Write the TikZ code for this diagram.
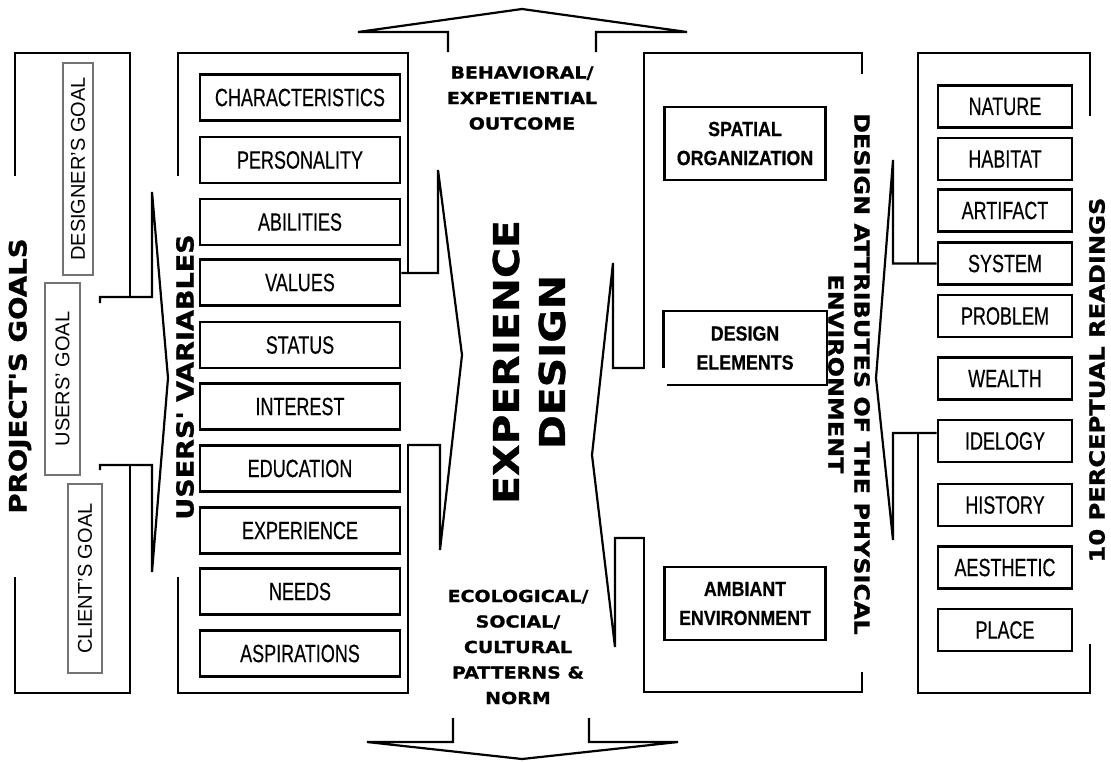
\documentclass[tikz,border=0pt]{standalone}
\usepackage{fontspec}
\setmainfont{Liberation Sans}
\newfontfamily\narrowfont[FakeStretch=0.72, FakeBold=0.3]{Liberation Sans}
\newfontfamily\condensedbold[FakeStretch=0.87, FakeBold=0.5]{Liberation Sans}
\newfontfamily\heavyfont[FakeStretch=1.15, FakeBold=1.0]{DejaVu Sans}
\tikzset{
    frame/.style={line width=2.8pt, line cap=rect},
    outline/.style={line width=2.2pt, line join=miter},
    item/.style={draw, line width=2.6pt, minimum width=200pt,
                 minimum height=46pt, inner sep=0pt,
                 font=\narrowfont\fontsize{25}{25}\selectfont},
    reading/.style={item, minimum width=134pt, minimum height=42pt},
    goal/.style={draw=black!55, line width=1.4pt, rotate=90, inner sep=0pt,
                 font=\fontsize{20}{20}\selectfont},
    attribute/.style={draw, line width=2.4pt, minimum width=161pt,
                      minimum height=73pt, inner sep=0pt, align=center,
                      font=\condensedbold\bfseries\fontsize{20.5}{29}\selectfont},
    heading/.style={inner sep=0pt, align=center,
                    font=\heavyfont\bfseries\fontsize{24}{24}\selectfont},
    caption/.style={inner sep=0pt, align=center,
                    font=\heavyfont\bfseries\fontsize{16.5}{25.5}\selectfont},
}

\begin{document}
\begin{tikzpicture}[x=1pt, y=-1pt]
    \path[use as bounding box] (0,0) rectangle (1111,761);

    % project goals
    \node[heading, rotate=90] (projectgoals) at (20,376) {PROJECT'S GOALS};
    \node[goal, minimum width=212pt, minimum height=30pt] (designergoal) at (78,169) {DESIGNER'S GOAL};
    \node[goal, minimum width=192pt, minimum height=35pt] (usersgoal) at (62.5,379) {USERS' GOAL};
    \node[goal, minimum width=189pt, minimum height=34pt] (clientgoal) at (85,578.5) {CLIENT'S GOAL};

    \draw[frame] (15,175) -- (15,53) -- (130,53) -- (130,297);
    \draw[frame] (15,578) -- (15,693) -- (130,693) -- (130,465);
    \draw[outline] (100,303) -- (100,297) -- (152,297) -- (152,192)
        -- (168,378) -- (152,572) -- (152,465) -- (100,465) -- (100,470);

    % users' variables
    \node[heading, rotate=90, font=\heavyfont\bfseries\fontsize{23.5}{23.5}\selectfont] (usersvariables) at (185,377) {USERS' VARIABLES};
    \node[item] (characteristics) at (300,97.5) {CHARACTERISTICS};
    \node[item] (personality) at (300,160) {PERSONALITY};
    \node[item] (abilities) at (300,222) {ABILITIES};
    \node[item] (values) at (300,282.5) {VALUES};
    \node[item] (status) at (300,345) {STATUS};
    \node[item] (interest) at (300,406.5) {INTEREST};
    \node[item] (education) at (300,468.5) {EDUCATION};
    \node[item] (experience) at (300,530.5) {EXPERIENCE};
    \node[item] (needs) at (300,591.5) {NEEDS};
    \node[item] (aspirations) at (300,653.5) {ASPIRATIONS};

    \coordinate (valuesstub) at (438,273);
    \draw[frame] (178,175) -- (178,53) -- (408,53) -- (408,273);
    \draw[frame] (178,578) -- (178,693) -- (408,693) -- (408,445);
    \draw[outline] (values.east |- valuesstub) -- (valuesstub) -- (438,170)
        -- (462,355) -- (440,550) -- (440,445) -- (408,445);

    % experience design
    \node[heading, rotate=90, font=\heavyfont\bfseries\fontsize{35.5}{46}\selectfont] (experiencedesign) at (529,362) {EXPERIENCE\\DESIGN};
    \node[caption] (outcome) at (522,98) {BEHAVIORAL/\\EXPETIENTIAL\\OUTCOME};
    \node[caption] (patterns) at (518,647) {ECOLOGICAL/\\SOCIAL/\\CULTURAL\\PATTERNS \&\\NORM};

    \draw[outline] (448,52) -- (448,32) -- (358,32) -- (522,9)
        -- (687,32) -- (596,32) -- (596,52);
    \draw[outline] (453,718) -- (453,742) -- (367,742) -- (522,759)
        -- (678,742) -- (589,742) -- (589,718);

    % design attributes of the physical environment
    \node[heading, rotate=-90, font=\heavyfont\bfseries\fontsize{20.8}{26}\selectfont] (attributes) at (849,374) {DESIGN ATTRIBUTES OF THE PHYSICAL\\ENVIRONMENT};
    \node[attribute] (spatial) at (745,143.5) {SPATIAL\\ORGANIZATION};
    \node[attribute, draw=none, minimum height=72pt] (elements) at (745,348) {DESIGN\\ELEMENTS};
    \node[attribute] (ambiant) at (745,603.5) {AMBIANT\\ENVIRONMENT};
    \draw[line width=2.4pt] ([yshift=17pt]elements.south west) -- (elements.north west)
        -- (elements.north east) -- (elements.south east) -- ([xshift=4pt]elements.south west);

    \draw[frame] (862,73) -- (862,53) -- (644,53) -- (644,368);
    \draw[frame] (862,673) -- (862,692) -- (644,692) -- (644,538);
    \draw[outline] (644,368) -- (613,368) -- (613,263) -- (592,455)
        -- (615,647) -- (615,538) -- (644,538);

    % perceptual readings
    \node[heading, rotate=90, font=\heavyfont\bfseries\fontsize{21}{21}\selectfont] (readings) at (1097,380) {10 PERCEPTUAL READINGS};
    \node[reading] (nature) at (1005,106.5) {NATURE};
    \node[reading] (habitat) at (1005,159) {HABITAT};
    \node[reading] (artifact) at (1005,210.5) {ARTIFACT};
    \node[reading] (system) at (1005,263.5) {SYSTEM};
    \node[reading] (problem) at (1005,316) {PROBLEM};
    \node[reading] (wealth) at (1005,378.5) {WEALTH};
    \node[reading] (ideology) at (1005,441) {IDELOGY};
    \node[reading] (history) at (1005,505) {HISTORY};
    \node[reading] (aesthetic) at (1005,567.5) {AESTHETIC};
    \node[reading] (place) at (1005,630) {PLACE};

    \coordinate (ideologystub) at (893,433);
    \draw[frame] (1090,115) -- (1090,53) -- (918,53) -- (918,263);
    \draw[frame] (1090,645) -- (1090,693) -- (918,693) -- (918,433);
    \draw[outline] (system.west) -- (893,263.5) -- (893,160) -- (876,378)
        -- (893,540) -- (ideologystub) -- (ideology.west |- ideologystub);
\end{tikzpicture}
\end{document}
